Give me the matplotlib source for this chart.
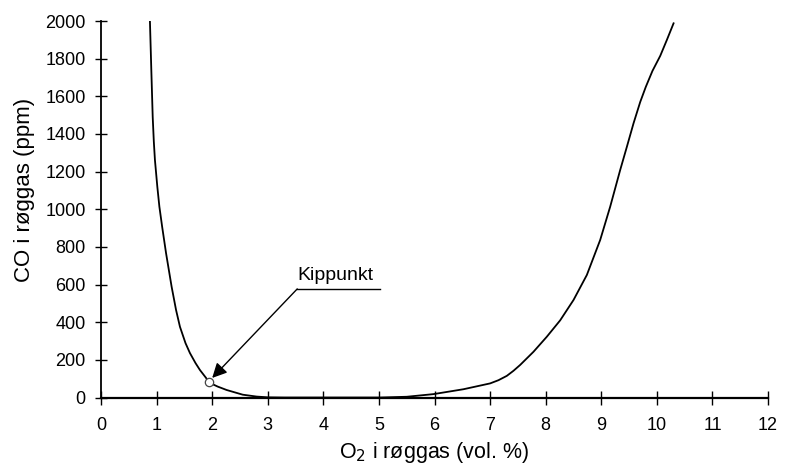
import matplotlib.pyplot as plt

plt.rcParams['font.family'] = ['Liberation Sans', 'DejaVu Sans']

# O2 (vol. %) and CO (ppm)
o2 = [0.88, 0.905, 0.93, 0.95, 0.97, 1.013, 1.05, 1.10, 1.17, 1.27, 1.35, 1.42,
      1.52, 1.60, 1.70, 1.78, 1.89, 1.94, 2.10, 2.26, 2.55, 2.80, 3.00, 3.30,
      4.00, 5.02, 5.50, 5.98, 6.52, 7.00, 7.15, 7.30, 7.42, 7.54, 7.78, 8.02,
      8.26, 8.50, 8.74, 8.98, 9.16, 9.34, 9.46, 9.58, 9.70, 9.80, 9.92, 10.06,
      10.18, 10.30]
co = [2000, 1740, 1490, 1360, 1262, 1120, 1014, 907, 767, 589, 465, 376,
      289, 236, 183, 146, 104, 80, 58, 40, 15, 5, 1, 0,
      0, 0, 4, 18, 44, 75, 92, 115, 142, 173, 243, 323,
      410, 518, 651, 837, 1014, 1209, 1332, 1457, 1570, 1650, 1735, 1815,
      1900, 1988]

kip_o2 = 1.94
kip_co = 80

fig = plt.figure(figsize=(7.91, 4.68), dpi=100)
ax = fig.add_axes([0.1277, 0.1506, 0.8433, 0.8044])

ax.plot(o2, co, color='black', lw=1.3)
ax.plot([kip_o2], [kip_co], marker='o', ms=6, mfc='white', mec='#444444',
        mew=0.9, ls='none', zorder=3)

# leader line with arrow to the tipping point
ax.plot([3.53, 5.02], [577, 577], color='black', lw=1.0)
ax.annotate('', xy=(2.0, 104), xytext=(3.53, 577),
            arrowprops=dict(arrowstyle='-|>', color='black', lw=1.0,
                            mutation_scale=22, shrinkA=0, shrinkB=0))
ax.text(4.22, 624, 'Kippunkt', ha='center', va='baseline', fontsize=14)

ax.set_xlim(0, 12)
ax.set_ylim(0, 2000)
ax.set_xticks(range(0, 13))
ax.set_yticks(range(0, 2001, 200))

for side in ('top', 'right'):
    ax.spines[side].set_visible(False)
ax.spines['left'].set_linewidth(1.3)
ax.spines['bottom'].set_linewidth(1.6)
ax.tick_params(axis='x', direction='inout', length=10, width=1.0, pad=9,
               labelsize=13)
ax.tick_params(axis='y', direction='inout', length=8, width=1.0, pad=7,
               labelsize=13)

ax.set_xlabel('O$_2$ i røggas (vol. %)', fontsize=15.5)
ax.set_ylabel('CO i røggas (ppm)', fontsize=16)
ax.xaxis.set_label_coords(0.5, -0.112)
ax.yaxis.set_label_coords(-0.099, 0.551)

fig.savefig('out.png', dpi=100)
